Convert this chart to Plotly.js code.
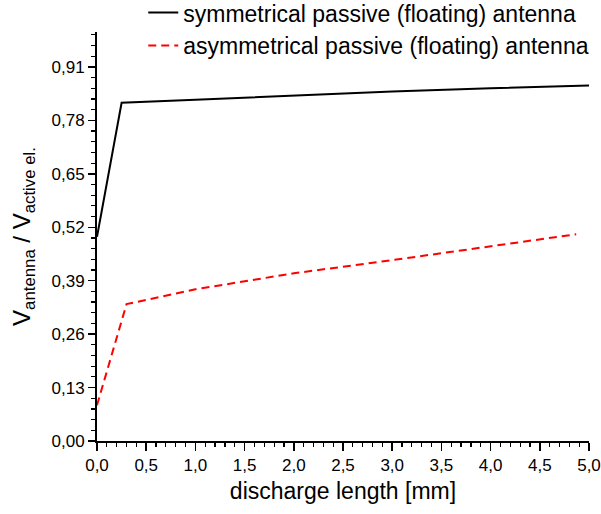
<!DOCTYPE html>
<html>
<head>
<meta charset="utf-8">
<script src="https://cdn.plot.ly/plotly-3.0.1.min.js"></script>
<style>html,body{margin:0;padding:0;background:#fff;}#chart{width:601px;height:514px;}</style>
</head>
<body>
<div id="chart"></div>
<script>
// Data
const symX = [0, 0.25, 1.0, 2.0, 3.0, 4.0, 5.0];
const symY = [0.497, 0.823, 0.830, 0.840, 0.850, 0.858, 0.865];
const asymX = [0, 0.30, 1.0, 2.0, 3.0, 3.7, 4.87];
const asymY = [0.087, 0.333, 0.369, 0.408, 0.440, 0.464, 0.503];
const seriesNames = ['symmetrical passive (floating) antenna', 'asymmetrical passive (floating) antenna'];
const xTitle = 'discharge length [mm]';
const yTitle = 'V<sub>antenna</sub> / V<sub>active el.</sub>';

const font = 'Liberation Sans, Arial, sans-serif';

const traces = [
  {x: symX, y: symY, type: 'scatter', mode: 'lines', name: seriesNames[0],
   line: {color: '#000000', width: 2}},
  {x: asymX, y: asymY, type: 'scatter', mode: 'lines', name: seriesNames[1],
   line: {color: '#ff0000', width: 2, dash: '8px,5px'}}
];

const layout = {
  width: 601, height: 514,
  separators: ', ',
  font: {family: font, color: '#000', size: 17},
  paper_bgcolor: '#fff', plot_bgcolor: '#fff',
  margin: {l: 97, r: 12, t: 32, b: 73, autoexpand: false},
  showlegend: true,
  legend: {x: 0.094, y: 1.1, xanchor: 'left', yanchor: 'top',
           font: {size: 23, family: font}, bgcolor: 'rgba(0,0,0,0)',
           tracegroupgap: 0, itemwidth: 30},
  xaxis: {
    range: [0, 5], dtick: 0.5, tick0: 0, tickformat: '.1f',
    showline: true, linecolor: '#000', linewidth: 2, mirror: false,
    ticks: 'outside', ticklen: 8, tickwidth: 1.5, tickcolor: '#000',
    showgrid: false, zeroline: false,
    tickfont: {size: 17},
    minor: {dtick: 0.1, ticks: 'outside', ticklen: 4, tickwidth: 1.2, tickcolor: '#000', showgrid: false},
    title: {text: xTitle, font: {size: 23}, standoff: 8}
  },
  yaxis: {
    range: [0, 0.995], dtick: 0.13, tick0: 0, tickformat: '.2f',
    showline: true, linecolor: '#000', linewidth: 2, mirror: false,
    ticks: 'outside', ticklen: 7, tickwidth: 1.5, tickcolor: '#000',
    showgrid: false, zeroline: false,
    tickfont: {size: 17},
    minor: {dtick: 0.026, ticks: 'outside', ticklen: 4, tickwidth: 1.2, tickcolor: '#000', showgrid: false},
    title: {text: yTitle, font: {size: 24}, standoff: 14}
  }
};

Plotly.newPlot('chart', traces, layout, {displayModeBar: false, staticPlot: true});
</script>
</body>
</html>
